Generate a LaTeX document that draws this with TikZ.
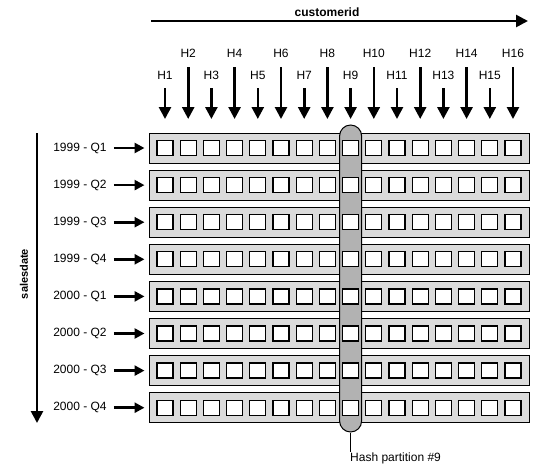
\documentclass[tikz,border=0pt]{standalone}
\usepackage{fontspec}
\setmainfont{Liberation Sans}
\usetikzlibrary{arrows.meta}
\definecolor{rowgray}{gray}{0.86}
\definecolor{capgray}{gray}{0.70}
\begin{document}
\begin{tikzpicture}[x=1pt,y=-1pt,
  bigarrow/.style={line width=2.6pt,-{Triangle[length=12pt,width=12pt]}},
  smallarrow/.style={line width=2.6pt,-{Triangle[length=10pt,width=10pt]}},
  rowbox/.style={draw=black,line width=1pt,fill=rowgray,minimum width=380pt,minimum height=30pt,inner sep=0pt},
  cellbox/.style={draw=black,line width=1.3pt,fill=white,minimum width=16pt,minimum height=15pt,inner sep=0pt},
  capsule/.style={draw=black,line width=1pt,fill=capgray,rounded corners=11pt,minimum width=22pt,minimum height=307pt,inner sep=0pt},
  lbl/.style={font=\fontsize{12}{14}\selectfont,inner sep=1pt},
  axislbl/.style={font=\fontsize{12}{14}\selectfont\bfseries,inner sep=1pt}]
\useasboundingbox (0,0) rectangle (536,472);
% axis arrows
\coordinate (cs) at (151,21);
\coordinate (ce) at (528,21);
\draw[bigarrow] (cs) -- (ce);
\node[axislbl] (cid) at (327,12) {customerid};
\coordinate (ss) at (37,133);
\coordinate (se) at (37,423);
\draw[bigarrow] (ss) -- (se);
\node[axislbl,font=\fontsize{11}{13}\selectfont\bfseries,rotate=90] (sd) at (24,274) {salesdate};
% rows
\foreach \i/\t in {1/1999 - Q1,2/1999 - Q2,3/1999 - Q3,4/1999 - Q4,5/2000 - Q1,6/2000 - Q2,7/2000 - Q3,8/2000 - Q4}{
  \pgfmathsetmacro{\yy}{148+37.1*(\i-1)}
  \node[rowbox] (r\i) at (339,\yy) {};
  \node[lbl] (t\i) at (80,\yy) {\t};
}
% capsule
\node[capsule] (cap) at (350.6,278.5) {};
% cells and row arrows
\foreach \i in {1,...,8}{
  \pgfmathsetmacro{\yy}{148+37.1*(\i-1)}
  \foreach \j in {1,...,16}{
    \node[cellbox] (c\i-\j) at ({165+23.2*(\j-1)},\yy) {};
  }
  \draw[smallarrow] ([xshift=6pt]t\i.east) -- ([xshift=-4pt]r\i.west);
}
% H labels and arrows
\foreach \j in {1,...,16}{
  \pgfmathsetmacro{\xx}{165+23.2*(\j-1)}
  \pgfmathtruncatemacro{\odd}{mod(\j,2)}
  \ifnum\odd=1
    \node[lbl] (h\j) at (\xx,75) {H\j};
    \coordinate (hs\j) at (\xx,88);
  \else
    \node[lbl] (h\j) at (\xx,53) {H\j};
    \coordinate (hs\j) at (\xx,67);
  \fi
  \coordinate (he\j) at (\xx,119);
  \draw[bigarrow] (hs\j) -- (he\j);
}
% hash partition label
\node[lbl,anchor=north west] (hp) at (349,452) {Hash partition \#9};
\draw[line width=0.8pt] (cap.south) -- (cap.south |- hp.north);
\end{tikzpicture}
\end{document}
